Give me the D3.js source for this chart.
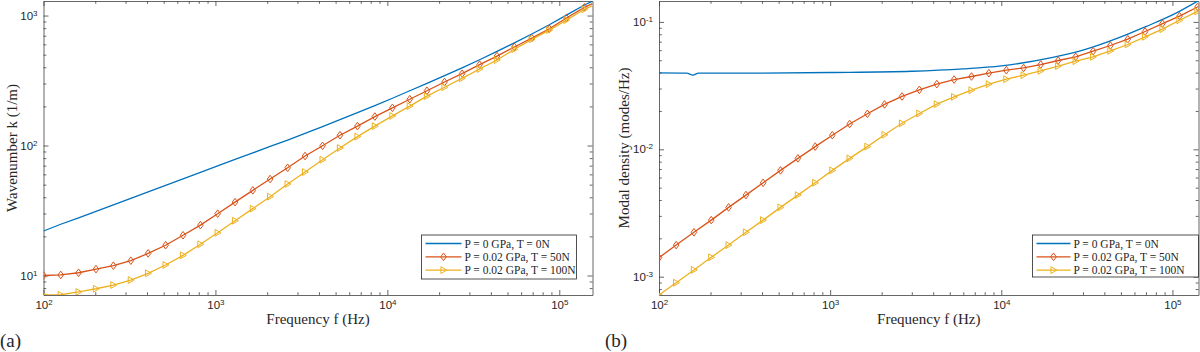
<!DOCTYPE html>
<html>
<head>
<meta charset="utf-8">
<script src="https://cdn.jsdelivr.net/npm/d3@7"></script>
<style>
  body { margin: 0; background: #fff; }
  svg text { fill: #262626; }
</style>
</head>
<body>
<svg id="chart" width="1200" height="352"></svg>
<script>
// frequencies (Hz) of the marked points; the last entry is where the curves run out
var freqHz = [100, 126, 160, 202, 255, 322, 406, 513, 648, 818, 1030, 1300, 1650, 2080, 2630,
  3320, 4200, 5300, 6700, 8460, 10700, 13500, 17000, 21500, 27200, 34400, 43400, 54800,
  69200, 87500, 110000, 140000, 156000];

// (a) wavenumber k (1/m)
var kBlue = [22.0, 24.8, 27.8, 31.2, 35.0, 39.2, 44.0, 49.4, 55.4, 62.1, 69.7, 78.2, 87.7, 98.4,
  110, 124, 140, 158, 179, 203, 231, 264, 301, 345, 396, 457, 530, 617, 721, 849, 1007, 1205, 1290];
var kRed = [10.0, 10.1, 10.5, 11.2, 11.9, 13.0, 14.8, 17.1, 20.4, 24.4, 29.9, 36.7, 45.2, 55.2,
  67.4, 83.0, 99.5, 120, 141, 167, 195, 227, 264, 308, 357, 419, 488, 573, 671, 791, 957, 1156, 1235];
var kYellow = [7.08, 7.11, 7.47, 7.91, 8.45, 9.23, 10.4, 12.05, 14.3, 17.4, 21.3, 26.4, 32.7, 40.4,
  50.6, 62.5, 77.8, 95.7, 117, 141, 169, 201, 240, 281, 329, 388, 455, 550, 656, 773, 923, 1117, 1190];

// (b) modal density (modes/Hz)
var blueFreqB = [100, 145, 158, 170, 300, 1000, 3000, 6000, 10000, 20000, 30000, 50000, 70000, 100000, 142000];
var nBlue = [0.0398, 0.0396, 0.0382, 0.0396, 0.0396, 0.0401, 0.0410, 0.0428, 0.0452, 0.0526,
  0.0600, 0.0762, 0.0920, 0.1135, 0.147];
var nRed = [1.41e-3, 1.77e-3, 2.23e-3, 2.78e-3, 3.50e-3, 4.37e-3, 5.46e-3, 6.83e-3, 8.49e-3, 1.05e-2,
  1.29e-2, 1.58e-2, 1.90e-2, 2.25e-2, 2.60e-2, 2.93e-2, 3.25e-2, 3.53e-2, 3.73e-2, 3.96e-2, 4.18e-2,
  4.35e-2, 4.63e-2, 4.98e-2, 5.32e-2, 5.89e-2, 6.53e-2, 7.32e-2, 8.41e-2, 9.71e-2, 0.111, 0.131, 0.143];
var nYellow = [7.18e-4, 8.97e-4, 1.13e-3, 1.42e-3, 1.77e-3, 2.23e-3, 2.78e-3, 3.50e-3, 4.37e-3, 5.46e-3,
  6.83e-3, 8.49e-3, 1.05e-2, 1.30e-2, 1.60e-2, 1.91e-2, 2.26e-2, 2.58e-2, 2.91e-2, 3.25e-2, 3.55e-2,
  3.82e-2, 4.13e-2, 4.50e-2, 4.92e-2, 5.32e-2, 5.93e-2, 6.65e-2, 7.64e-2, 8.77e-2, 0.103, 0.121, 0.132];

var legendLabels = ['P = 0 GPa, T = 0N', 'P = 0.02 GPa, T = 50N', 'P = 0.02 GPa, T = 100N'];
var colors = ['#0072BD', '#D95319', '#EDB120'];

var diamond = 'M0,-3.8L2.8,0L0,3.8L-2.8,0Z',
  triRight = 'M3.3,0L-2.6,-3.4L-2.6,3.4Z';

var panels = [
  {
    tag: '(a)', tagX: 0, left: 43.5, right: 592.5, top: 1, bottom: 295,
    xMax: 156000, yDomain: [7.08, 1294], ylabel: 'Wavenumber k (1/m)', ylabelX: 12,
    series: [
      {x: freqHz, y: kBlue, marker: null},
      {x: freqHz, y: kRed, marker: diamond},
      {x: freqHz, y: kYellow, marker: triRight}
    ],
    legend: {x: 421.5, y: 235, w: 155, h: 44, line: 36}
  },
  {
    tag: '(b)', tagX: 605, left: 659, right: 1198.5, top: 1, bottom: 295,
    xMax: 142000, yDomain: [7.18e-4, 0.146], ylabel: 'Modal density (modes/Hz)', ylabelX: 624,
    series: [
      {x: blueFreqB, y: nBlue, marker: null, curve: true},
      {x: freqHz, y: nRed, marker: diamond},
      {x: freqHz, y: nYellow, marker: triRight}
    ],
    legend: {x: 1032.5, y: 235, w: 166, h: 42, line: 34}
  }
];

var svg = d3.select('#chart');
var sans = '"Liberation Sans", Arial, sans-serif';
var serif = '"Liberation Serif", "Times New Roman", serif';

function isDecade(v) {
  var l = Math.log10(v);
  return Math.abs(l - Math.round(l)) < 1e-6;
}

// turn a tick value into "10" with the exponent raised
function supLabels(sel) {
  sel.selectAll('.tick text').each(function(d) {
    var t = d3.select(this);
    t.text('10');
    t.append('tspan').attr('dy', '-0.5em').attr('font-size', '8px')
      .text(Math.round(Math.log10(d)));
  });
}

panels.forEach(function(p, pi) {
  var x = d3.scaleLog().domain([100, p.xMax]).range([p.left, p.right]);
  var y = d3.scaleLog().domain(p.yDomain).range([p.bottom, p.top]);
  var g = svg.append('g');

  var xAll = x.ticks(), yAll = y.ticks();
  var xMaj = xAll.filter(isDecade), xMin = xAll.filter(function(d) { return !isDecade(d); });
  var yMaj = yAll.filter(isDecade), yMin = yAll.filter(function(d) { return !isDecade(d); });

  // box with inward ticks on all four sides, labels on bottom and left
  var specs = [
    {a: d3.axisBottom(x), t: [0, p.bottom], maj: xMaj, min: xMin, lab: true, pad: 6},
    {a: d3.axisTop(x), t: [0, p.top], maj: xMaj, min: xMin, lab: false},
    {a: d3.axisLeft(y), t: [p.left, 0], maj: yMaj, min: yMin, lab: true, pad: 6},
    {a: d3.axisRight(y), t: [p.right, 0], maj: yMaj, min: yMin, lab: false}
  ];
  specs.forEach(function(s) {
    var mj = g.append('g').attr('transform', 'translate(' + s.t[0] + ',' + s.t[1] + ')')
      .call(s.a.tickValues(s.maj).tickSize(-5).tickSizeOuter(0).tickPadding(s.lab ? s.pad : 0)
        .tickFormat(s.lab ? function(d) { return d; } : ''));
    mj.selectAll('text').attr('font-family', sans).attr('font-size', '11.5px').attr('fill', '#262626');
    if (s.lab) supLabels(mj);
    mj.select('.domain').attr('stroke', '#404040').attr('stroke-width', 0.8);
    mj.selectAll('.tick line').attr('stroke', '#404040').attr('stroke-width', 0.8);
    var mn = g.append('g').attr('transform', 'translate(' + s.t[0] + ',' + s.t[1] + ')')
      .call(s.a.tickValues(s.min).tickSize(-2.8).tickFormat(''));
    mn.select('.domain').remove();
    mn.selectAll('.tick line').attr('stroke', '#404040').attr('stroke-width', 0.8);
  });

  var clipId = 'clip' + pi;
  svg.append('clipPath').attr('id', clipId).append('rect')
    .attr('x', p.left).attr('y', p.top).attr('width', p.right - p.left).attr('height', p.bottom - p.top);

  var plot = g.append('g').attr('clip-path', 'url(#' + clipId + ')');
  p.series.forEach(function(s, si) {
    var pts = s.x.map(function(f, i) { return [f, s.y[i]]; });
    var line = d3.line().x(function(d) { return x(d[0]); }).y(function(d) { return y(d[1]); });
    if (s.curve) line.curve(d3.curveMonotoneX);
    plot.append('path').datum(pts).attr('d', line).attr('fill', 'none')
      .attr('stroke', colors[si]).attr('stroke-width', 1.3);
    if (s.marker) {
      plot.selectAll('.m' + si).data(pts.slice(0, pts.length - 1)).enter().append('path')
        .attr('class', 'm' + si).attr('d', s.marker)
        .attr('transform', function(d) { return 'translate(' + x(d[0]) + ',' + y(d[1]) + ')'; })
        .attr('fill', 'none').attr('stroke', colors[si]).attr('stroke-width', 1);
    }
  });

  // axis titles and panel tag
  g.append('text').attr('x', (p.left + p.right) / 2).attr('y', 324).attr('text-anchor', 'middle')
    .attr('font-family', serif).attr('font-size', '15px').text('Frequency f (Hz)');
  g.append('text').attr('transform', 'translate(' + p.ylabelX + ',' + ((p.top + p.bottom) / 2) + ') rotate(-90)')
    .attr('text-anchor', 'middle').attr('dy', '0.35em')
    .attr('font-family', serif).attr('font-size', '15px').text(p.ylabel);
  g.append('text').attr('x', p.tagX).attr('y', 347).attr('font-family', serif)
    .attr('font-size', '19px').text(p.tag);

  // legend
  var L = p.legend;
  var lg = g.append('g').attr('transform', 'translate(' + L.x + ',' + L.y + ')');
  lg.append('rect').attr('width', L.w).attr('height', L.h).attr('fill', '#fff')
    .attr('stroke', '#262626').attr('stroke-width', 0.8);
  legendLabels.forEach(function(txt, i) {
    var ry = 8.5 + i * 13.3;
    lg.append('line').attr('x1', 4).attr('x2', 4 + L.line).attr('y1', ry).attr('y2', ry)
      .attr('stroke', colors[i]).attr('stroke-width', 1.3);
    if (p.series[i].marker) {
      lg.append('path').attr('d', p.series[i].marker)
        .attr('transform', 'translate(' + (4 + L.line / 2) + ',' + ry + ')')
        .attr('fill', 'none').attr('stroke', colors[i]).attr('stroke-width', 1);
    }
    lg.append('text').attr('x', L.line + 7).attr('y', ry).attr('dy', '0.35em')
      .attr('font-family', serif).attr('font-size', '11.5px').text(txt);
  });
});
</script>
</body>
</html>
